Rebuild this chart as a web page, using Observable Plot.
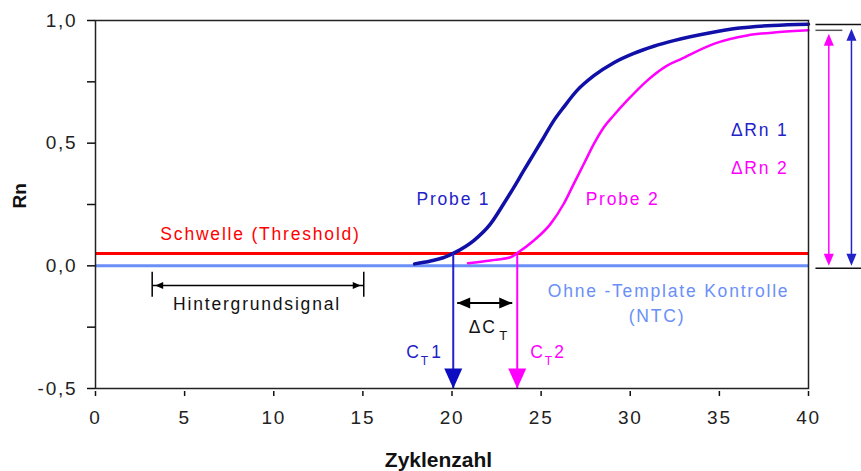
<!DOCTYPE html>
<html><head><meta charset="utf-8">
<script src="https://cdn.jsdelivr.net/npm/d3@7"></script>
<script src="https://cdn.jsdelivr.net/npm/@observablehq/plot@0.6"></script>
<style>
body{margin:0;background:#fff;}
svg text{letter-spacing:1.8px;}
svg g[font-weight="bold"] text, svg text[font-weight="bold"]{letter-spacing:0;}
</style></head><body><div id="chart"></div>
<script>
// ---- data ----
const probe1Cycles = [17.9,18.8,19.5,20.1,21.22,22.16,22.9,23.47,24.03,24.59,25.15,25.71,26.27,27.02,27.96,29.08,30.2,31.32,32.44,34.5,36,38,40];
const probe1Rn     = [0.008,0.02,0.033,0.052,0.103,0.171,0.253,0.32,0.389,0.456,0.524,0.592,0.647,0.715,0.775,0.828,0.866,0.895,0.918,0.95,0.968,0.98,0.985];
const probe2Cycles = [20.9,22.16,23.28,23.66,24.59,25.53,26.27,26.83,27.4,27.96,28.52,29.08,29.83,30.95,32.07,32.82,34.69,36.56,38.2,40];
const probe2Rn     = [0.011,0.022,0.035,0.052,0.103,0.171,0.253,0.334,0.416,0.497,0.565,0.614,0.674,0.755,0.816,0.842,0.905,0.939,0.952,0.96];
const threshold = 0.05;
const ntcLevel = 0;
const ctValues = [20.07, 23.66];            // C_T1, C_T2
const deltaRnMax = [0.966, 0.946];          // ΔRn 1, ΔRn 2 arrow tops
const deltaRnX = [42.41, 41.14];            // arrow positions (beyond cycle 40)
const plateauLines = [0.984, 0.96, -0.01];  // reference lines at right edge
const plateauEnds = [42.97, 41.9, 42.97];
const bgRange = [3.18, 15.05];              // Hintergrundsignal
const bgLevel = -0.08;
const dCtRange = [20.29, 23.38];            // ΔC_T arrow
const dCtLevel = -0.152;
const xTicks = [0,5,10,15,20,25,30,35,40];
const yTicks = [-0.5,-0.25,0,0.25,0.5,0.75,1];
const yTickLabels = ["-0,5","","0,0","","0,5","","1,0"];

const blueCurve = "#1010a8", blue = "#2222c8", magenta = "#ff00ff", red = "#ff0000", ntcBlue = "#6a8ff8";
const F = "Liberation Sans, Arial, sans-serif";
const LS = 17.5;

const p1 = probe1Cycles.map((c,i)=>({c, v: probe1Rn[i]}));
const p2 = probe2Cycles.map((c,i)=>({c, v: probe2Rn[i]}));

function head(len, wid){ return {draw(ctx){ ctx.moveTo(0,0); ctx.lineTo(wid/2,len); ctx.lineTo(-wid/2,len); ctx.closePath(); }}; }
const bigHead = head(20,18), midHead = head(13,11), rnHead = head(12,10), smallHead = head(8,7);

const plateau = plateauLines.map((v,i)=>({v, x2: plateauEnds[i], s: i===1 ? "#555" : "#111"}));
const rnArrows = deltaRnX.map((x,i)=>({x, top: deltaRnMax[i], col: i===0 ? blue : magenta}));

const chart = Plot.plot({
  width: 861, height: 471,
  marginLeft: 95, marginRight: 53, marginTop: 20, marginBottom: 83,
  x: {domain: [0,40], axis: null},
  y: {domain: [-0.5,1], axis: null},
  style: {fontFamily: F, background: "#fff", overflow: "visible"},
  marks: [
    // baselines
    Plot.ruleY([ntcLevel], {stroke: ntcBlue, strokeWidth: 3}),
    Plot.ruleY([threshold], {stroke: red, strokeWidth: 3}),
    // curves
    Plot.line(p2, {x: "c", y: "v", stroke: magenta, strokeWidth: 2.5, curve: "monotone-x"}),
    Plot.line(p1, {x: "c", y: "v", stroke: blueCurve, strokeWidth: 3.5, curve: "monotone-x"}),
    // Ct arrows
    Plot.ruleX(ctValues, {x: d=>d, y1: threshold, y2: -0.5, stroke: (d,i)=> i===0 ? blue : magenta, strokeWidth: 2}),
    Plot.dot(ctValues, {x: d=>d, y: -0.5, symbol: bigHead, rotate: 180, fill: (d,i)=> i===0 ? "#0c0cc0" : magenta, stroke: "none", r: 5}),
    // ΔCt arrow
    Plot.link([dCtRange], {x1: d=>d[0], x2: d=>d[1], y1: dCtLevel, y2: dCtLevel, stroke: "#000", strokeWidth: 2}),
    Plot.dot([dCtRange[0]], {x: d=>d, y: dCtLevel, symbol: midHead, rotate: -90, fill: "#000", stroke: "none", r: 5}),
    Plot.dot([dCtRange[1]], {x: d=>d, y: dCtLevel, symbol: midHead, rotate: 90, fill: "#000", stroke: "none", r: 5}),
    // Hintergrundsignal
    Plot.ruleX(bgRange, {x: d=>d, y1: bgLevel+0.054, y2: bgLevel-0.048, stroke: "#000", strokeWidth: 1.5}),
    Plot.link([bgRange], {x1: d=>d[0], x2: d=>d[1], y1: bgLevel, y2: bgLevel, stroke: "#000", strokeWidth: 1.5}),
    Plot.dot([bgRange[0]], {x: d=>d, y: bgLevel, symbol: smallHead, rotate: -90, fill: "#000", stroke: "none", r: 5, dx: 3}),
    Plot.dot([bgRange[1]], {x: d=>d, y: bgLevel, symbol: smallHead, rotate: 90, fill: "#000", stroke: "none", r: 5, dx: -3}),
    // ΔRn arrows
    Plot.link(plateau, {x1: 40.39, x2: "x2", y1: "v", y2: "v", stroke: "s", strokeWidth: 1.5}),
    Plot.link(rnArrows, {x1: "x", x2: "x", y1: d=>d.top-0.03, y2: 0.03, stroke: "col", strokeWidth: 1.5}),
    Plot.dot(rnArrows, {x: "x", y: "top", symbol: rnHead, rotate: 0, fill: "col", stroke: "none", r: 5}),
    Plot.dot(rnArrows, {x: "x", y: 0, symbol: rnHead, rotate: 180, fill: "col", stroke: "none", r: 5}),
    // frame & axes
    Plot.frame({stroke: "#222", strokeWidth: 1.5}),
    Plot.axisY({ticks: yTicks, tickFormat: (d)=> yTickLabels[yTicks.indexOf(d)], tickSize: 8, tickPadding: 10, strokeWidth: 1.5, stroke: "#111", fontSize: 19, fill: "#222", label: null}),
    Plot.axisX({ticks: xTicks, tickFormat: d=>String(d), tickSize: 5, tickPadding: 14, dy: 3, strokeWidth: 1.5, stroke: "#111", fontSize: 19, fill: "#222", label: null}),
    // labels
    Plot.text(["Schwelle (Threshold)"], {x: 9.26, y: 0.106, text: d=>d, fill: red, fontSize: LS, lineAnchor: "bottom"}),
    Plot.text(["Hintergrundsignal"], {x: 9.06, y: -0.182, text: d=>d, fill: "#111", fontSize: LS, lineAnchor: "bottom"}),
    Plot.text(["Probe 1"], {x: 20.08, y: 0.246, text: d=>d, fill: blue, fontSize: LS, lineAnchor: "bottom"}),
    Plot.text(["Probe 2"], {x: 29.57, y: 0.246, text: d=>d, fill: magenta, fontSize: LS, lineAnchor: "bottom"}),
    Plot.text(["Ohne -Template Kontrolle"], {x: 32.15, y: -0.128, text: d=>d, fill: ntcBlue, fontSize: LS, lineAnchor: "bottom"}),
    Plot.text(["(NTC)"], {x: 31.5, y: -0.23, text: d=>d, fill: ntcBlue, fontSize: LS, lineAnchor: "bottom"}),
    Plot.text(["ΔRn 1"], {x: 38.88, y: 0.531, text: d=>d, fill: blue, fontSize: LS, lineAnchor: "bottom", textAnchor: "end"}),
    Plot.text(["ΔRn 2"], {x: 38.88, y: 0.376, text: d=>d, fill: magenta, fontSize: LS, lineAnchor: "bottom", textAnchor: "end"}),
    // C_T labels
    Plot.text(["C"], {x: ctValues[0], y: -0.377, text: d=>d, fill: blue, fontSize: LS, lineAnchor: "bottom", textAnchor: "start", dx: -47}),
    Plot.text(["T"], {x: ctValues[0], y: -0.377, text: d=>d, fill: blue, fontSize: 12, lineAnchor: "bottom", textAnchor: "start", dx: -32.5, dy: 7}),
    Plot.text(["1"], {x: ctValues[0], y: -0.377, text: d=>d, fill: blue, fontSize: LS, lineAnchor: "bottom", textAnchor: "start", dx: -22}),
    Plot.text(["C"], {x: ctValues[1], y: -0.377, text: d=>d, fill: magenta, fontSize: LS, lineAnchor: "bottom", textAnchor: "start", dx: 13}),
    Plot.text(["T"], {x: ctValues[1], y: -0.377, text: d=>d, fill: magenta, fontSize: 12, lineAnchor: "bottom", textAnchor: "start", dx: 27.5, dy: 7}),
    Plot.text(["2"], {x: ctValues[1], y: -0.377, text: d=>d, fill: magenta, fontSize: LS, lineAnchor: "bottom", textAnchor: "start", dx: 37}),
    Plot.text(["ΔC"], {x: dCtRange[0], y: -0.275, text: d=>d, fill: "#111", fontSize: LS, lineAnchor: "bottom", textAnchor: "start", dx: 11.5}),
    Plot.text(["T"], {x: dCtRange[0], y: -0.275, text: d=>d, fill: "#111", fontSize: 13, lineAnchor: "bottom", textAnchor: "start", dx: 42, dy: 7}),
    // axis titles
    Plot.text(["Rn"], {frameAnchor: "left", text: d=>d, rotate: -90, dx: -76, dy: 4, fontSize: 19, fontWeight: "bold", fill: "#111"}),
    Plot.text(["Zyklenzahl"], {frameAnchor: "bottom", text: d=>d, dx: -13.5, dy: 78, lineAnchor: "bottom", fontSize: 21, fontWeight: "bold", fill: "#111"})
  ]
});
document.getElementById("chart").appendChild(chart);
</script></body></html>
